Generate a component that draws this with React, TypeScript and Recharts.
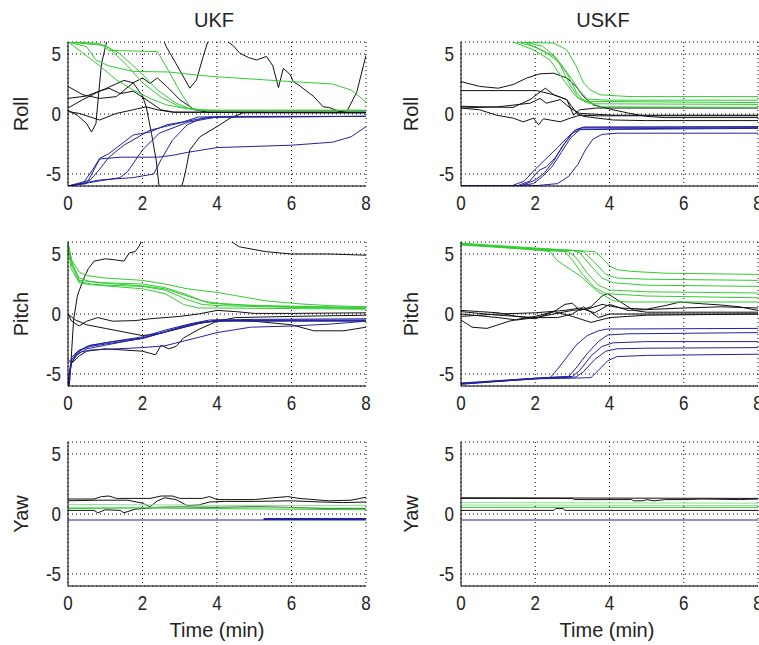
import { LineChart, Line, XAxis, YAxis, CartesianGrid } from "recharts";

type Pair = [number, number];

const timeTicks = [0, 2, 4, 6, 8];
const angleTicks = [-5, 0, 5];

const GREEN = "#33cc33";
const LIGHT_GREEN = "#8fe08f";
const BLUE = "#22229e";
const BLACK = "#111111";
const FONT = "'Liberation Sans', Arial, sans-serif";

// ---- UKF roll ----
const ukfRollGreen: Pair[][] = [
  [[0, 6], [0.4, 5.1], [0.85, 4.0], [1.3, 2.85], [1.75, 2.0], [2.2, 1.3], [2.65, 0.75], [3.1, 0.5], [3.5, 0.35], [4, 0.3], [8, 0.3]],
  [[0, 6], [0.8, 5.9], [1.1, 5.5], [1.6, 4.0], [2.0, 2.6], [2.5, 1.4], [3.0, 0.6], [3.5, 0.3], [8, 0.3]],
  [[0, 6], [0.9, 5.8], [1.1, 5.3], [2.4, 5.2], [2.7, 3.6], [3.0, 1.9], [3.3, 0.5], [3.6, 0.3], [8, 0.3]],
  [[0, 6], [1.0, 5.7], [1.4, 5.0], [1.9, 3.6], [2.4, 2.0], [2.9, 0.9], [3.3, 0.4], [3.8, 0.3], [8, 0.3]],
  [[0, 6], [0.5, 5.6], [0.75, 4.5], [1.1, 4.0], [1.75, 3.55], [2.7, 3.5], [3.6, 3.2], [4.0, 3.1], [6.0, 2.7], [7.1, 2.5], [7.6, 2.0], [8, 1.0]],
];
const ukfRollBlue: Pair[][] = [
  [[0, -6], [0.4, -5.8], [0.65, -4.7], [0.85, -3.7], [1.1, -3.3], [1.75, -1.75], [2.2, -1.5], [2.65, -0.9], [3.1, -0.65], [3.5, -0.25], [8, -0.2]],
  [[0, -6], [0.6, -5.5], [0.85, -4.6], [1.1, -3.6], [1.5, -2.6], [2.2, -1.35], [3.2, -0.6], [3.8, -0.25], [8, -0.2]],
  [[0, -6], [0.8, -5.6], [1.4, -5.3], [1.6, -4.8], [2.0, -3.0], [2.45, -1.6], [3.2, -0.7], [4.0, -0.25], [8, -0.2]],
  [[0, -6], [0.85, -5.5], [1.75, -5.3], [2.3, -5.0], [2.5, -3.8], [2.8, -2.2], [3.2, -0.9], [3.6, -0.35], [4.4, -0.2], [8, -0.2]],
  [[0, -6], [0.5, -5.8], [0.85, -3.75], [1.4, -3.6], [2.4, -3.6], [2.8, -3.45], [3.2, -3.2], [4.0, -2.8], [6.0, -2.6], [7.1, -2.35], [7.6, -1.9], [8, -1.05]],
];
const ukfRollBlack: Pair[][] = [
  [[0, 0.3], [0.25, -0.1], [0.5, -0.8], [0.63, -1.5], [0.75, -0.8], [0.85, 2.6], [0.9, 4.2], [1.05, 6.2], [1.5, 8], [2.2, 8.5], [2.5, 6.6], [2.64, 5.6], [2.9, 4.2], [3.27, 2.15], [3.45, 2.85], [3.63, 4.8], [3.76, 6.1], [4.0, 7], [4.26, 6.1], [4.45, 5.65], [4.6, 5.1], [4.85, 4.7], [5.06, 4.5], [5.33, 4.8], [5.5, 4.0], [5.65, 2.2], [5.78, 3.8], [5.96, 3.3], [6.05, 2.7], [6.2, 2.4], [6.6, 1.45], [6.85, 0.6], [7.0, 0.55], [7.3, 0.2], [7.5, 0.3], [7.75, 1.8], [8, 4.9]],
  [[0, 1.3], [0.5, 1.5], [1.0, 2.1], [1.5, 2.8], [1.75, 2.6], [2.0, 1.5], [2.1, 0.6], [2.24, -1.6], [2.37, -3.9], [2.45, -6.2], [2.75, -9], [3.05, -6.1], [3.14, -5.0], [3.27, -3.0], [3.54, -1.9], [4.0, -1.05], [4.35, -0.35], [4.7, 0.1], [8, 0.1]],
  [[0, 2.3], [0.4, 1.6], [0.85, 1.3], [1.3, 1.45], [1.75, 2.6], [2.0, 3.0], [2.2, 2.55], [2.4, 3.0], [2.65, 2.3], [3.0, 1.2], [3.4, 0.35], [3.75, 0.15], [8, 0.15]],
  [[0, 0.5], [0.4, 1.2], [0.85, 1.9], [1.1, 2.15], [1.4, 1.7], [1.75, 1.9], [2.1, 1.2], [2.5, 0.35], [2.85, 0.15], [8, 0.15]],
  [[0, 0.2], [0.3, 0.05], [0.85, -0.5], [1.3, 0.05], [1.75, 0.35], [2.1, 0.6], [2.4, 0.35], [2.8, 0.15], [8, 0.1]],
];

// ---- USKF roll ----
const uskfRollGreen: Pair[][] = [
  [[0, 7], [1.3, 6.3], [1.6, 6.0], [2.5, 5.9], [2.85, 5.35], [3.1, 4.0], [3.3, 2.6], [3.48, 2.0], [3.75, 1.6], [4.55, 1.45], [8, 1.45]],
  [[0, 7], [1.5, 6.2], [1.77, 5.9], [2.3, 5.1], [2.67, 4.25], [2.94, 3.1], [3.2, 1.9], [3.4, 1.25], [3.9, 1.15], [8, 1.15]],
  [[0, 7], [1.2, 6.2], [1.4, 6.0], [1.95, 5.35], [2.4, 4.5], [2.76, 2.85], [3.1, 1.45], [3.4, 1.05], [8, 0.95]],
  [[0, 7], [1.4, 6.2], [1.68, 6.0], [2.2, 5.65], [2.58, 4.65], [2.94, 2.4], [3.2, 1.2], [3.6, 0.85], [8, 0.8]],
  [[0, 7], [1.3, 6.2], [1.5, 6.0], [2.0, 5.6], [2.5, 4.8], [2.85, 3.4], [3.12, 1.75], [3.35, 1.0], [3.8, 0.6], [8, 0.55]],
];
const uskfRollBlue: Pair[][] = [
  [[0, -6], [1.35, -6], [1.7, -5.6], [2.0, -4.6], [2.2, -4.0], [2.4, -3.4], [2.6, -2.8], [2.85, -2.0], [3.1, -1.3], [3.3, -1.1], [8, -1.05]],
  [[0, -6], [1.5, -6], [1.85, -5.6], [2.1, -4.7], [2.3, -4.4], [2.55, -3.6], [2.8, -2.4], [3.05, -1.4], [3.3, -1.1], [8, -1.1]],
  [[0, -6], [1.55, -6], [1.95, -5.8], [2.2, -5.2], [2.45, -4.4], [2.7, -3.2], [2.95, -2.0], [3.2, -1.3], [8, -1.2]],
  [[0, -6], [1.6, -6], [2.0, -5.5], [2.25, -4.9], [2.5, -3.9], [2.75, -2.6], [3.0, -1.6], [3.25, -1.25], [8, -1.15]],
  [[0, -6], [1.7, -6], [2.1, -5.95], [2.6, -5.8], [2.9, -5.2], [3.15, -4.2], [3.35, -3.0], [3.55, -2.1], [3.8, -1.7], [4.2, -1.6], [8, -1.6]],
];
const uskfRollBlack: Pair[][] = [
  [[0, 2.7], [0.5, 2.3], [1.0, 2.15], [1.4, 2.45], [1.77, 3.0], [2.13, 3.35], [2.5, 3.4], [2.85, 3.0], [3.1, 2.3], [3.3, 1.45], [3.57, 0.75], [4.1, 0.35], [4.55, 0.05], [5.0, -0.2], [5.5, -0.3], [8, -0.3]],
  [[0, 1.95], [2.04, 1.95], [2.5, 1.6], [2.85, 1.2], [3.12, 0.05], [3.3, -0.2], [4.1, -0.5], [5.0, -0.55], [8, -0.55]],
  [[0, 0.65], [0.5, 0.6], [1.4, 0.55], [1.86, 1.2], [2.27, 2.15], [2.5, 1.6], [2.85, 1.2], [3.03, -0.1], [3.2, 0.35], [3.66, 0.5], [8, 0.5]],
  [[0, 0.5], [1.0, 0.6], [1.86, 0.9], [2.13, 1.3], [2.3, 0.9], [2.67, 1.2], [2.94, 0.5], [3.2, 0.05], [4.1, -0.1], [8, -0.1]],
  [[0, 0.5], [0.5, 0.35], [0.96, -0.1], [1.41, -0.35], [1.68, -0.65], [1.95, -0.35], [2.09, -0.9], [2.22, -0.4], [2.4, -0.5], [2.67, -0.65], [2.94, -0.35], [3.2, -0.1], [3.7, -0.15], [8, -0.15]],
];

// ---- UKF pitch ----
const ukfPitchGreen: Pair[][] = [
  [[0, 5.9], [0.1, 4.5], [0.3, 3.5], [0.5, 3.2], [1.0, 3.0], [2.0, 2.8], [2.6, 2.5], [3.2, 2.1], [4.0, 1.8], [5.3, 1.1], [6.2, 0.85], [7.0, 0.7], [8, 0.6]],
  [[0, 5.8], [0.1, 4.2], [0.3, 3.0], [0.6, 2.7], [1.0, 2.6], [2.0, 2.5], [2.6, 2.2], [3.2, 1.6], [3.6, 1.1], [4.0, 0.9], [5.0, 0.7], [6.0, 0.6], [8, 0.5]],
  [[0, 5.7], [0.1, 4.0], [0.3, 2.7], [0.6, 2.5], [1.0, 2.4], [2.0, 2.3], [2.6, 2.0], [3.2, 1.2], [3.6, 0.8], [4.0, 0.7], [6.0, 0.55], [8, 0.45]],
  [[0, 5.6], [0.08, 3.8], [0.3, 2.6], [0.6, 2.45], [1.0, 2.35], [2.0, 2.1], [2.6, 1.7], [3.1, 0.8], [3.5, 0.5], [4.0, 0.5], [6.0, 0.45], [8, 0.4]],
  [[0, 5.9], [0.1, 4.4], [0.3, 2.8], [1.0, 2.55], [2.0, 2.35], [2.6, 2.1], [3.3, 1.4], [3.8, 0.9], [4.5, 0.75], [6.0, 0.65], [8, 0.55]],
];
const ukfPitchBlue: Pair[][] = [
  [[0, -6], [0.08, -4.2], [0.2, -3.5], [0.5, -2.9], [1.0, -2.6], [2.0, -2.0], [2.6, -1.5], [3.5, -0.8], [4.0, -0.55], [6.0, -0.5], [8, -0.5]],
  [[0, -5.8], [0.08, -3.9], [0.25, -3.2], [0.5, -2.7], [1.0, -2.4], [2.0, -1.9], [2.6, -1.35], [3.3, -0.8], [3.8, -0.5], [5.0, -0.45], [8, -0.4]],
  [[0, -6], [0.1, -3.6], [0.3, -3.0], [0.6, -2.7], [1.0, -2.5], [2.0, -2.05], [2.5, -1.6], [3.0, -1.1], [3.6, -0.65], [4.5, -0.55], [8, -0.55]],
  [[0, -6], [0.1, -4.0], [0.3, -3.2], [0.6, -3.0], [1.0, -2.95], [2.0, -2.8], [2.6, -2.65], [3.5, -1.95], [4.0, -1.55], [4.9, -1.1], [6.0, -1.0], [7.0, -0.85], [8, -0.6]],
  [[0, -5.9], [0.1, -3.8], [0.3, -3.1], [0.6, -2.6], [1.2, -2.3], [2.0, -2.0], [2.8, -1.3], [3.5, -0.75], [4.0, -0.6], [8, -0.6]],
];
const ukfPitchBlack: Pair[][] = [
  [[0, -6.6], [0.05, -5.5], [0.1, -3], [0.15, -0.5], [0.25, 1.5], [0.4, 2.8], [0.55, 3.8], [0.7, 4.4], [1.0, 4.6], [1.3, 4.5], [1.5, 4.4], [1.65, 5.1], [1.8, 5.2], [1.9, 5.6], [2.0, 6.2], [2.5, 7.5], [3.5, 7.8], [4.3, 6.2], [4.6, 5.6], [5.3, 5.2], [6.0, 5.0], [7.0, 5.0], [8, 4.9]],
  [[0, 0], [0.1, -0.6], [0.3, -1.0], [0.5, -0.6], [0.8, -0.3], [1.2, -0.6], [1.8, -0.55], [2.2, -0.4], [3.0, -0.2], [3.5, 0], [4.0, 0.3], [4.5, 0.2], [5.0, 0.05], [6.0, 0.05], [8, 0.1]],
  [[0, 0], [0.2, -0.5], [0.5, -0.9], [1.0, -1.2], [1.5, -1.5], [2.0, -1.8], [2.5, -1.6], [3.0, -1.2], [3.5, -0.8], [4.0, -0.5], [5.0, -0.6], [6.0, -0.9], [6.6, -1.4], [7.4, -1.4], [8, -1.1]],
  [[0, -3.8], [0.1, -4.1], [0.3, -3.5], [0.5, -3.1], [1.0, -2.9], [1.5, -3.0], [2.0, -3.1], [2.35, -3.4], [2.5, -2.6], [2.7, -2.9], [2.9, -2.7], [3.1, -2.0], [3.5, -1.3], [4.0, -0.6], [4.5, -0.3], [6.0, -0.2], [8, -0.1]],
];

// ---- USKF pitch ----
const uskfPitchGreen: Pair[][] = [
  [[0, 5.9], [1.0, 5.7], [2.0, 5.5], [3.0, 5.3], [3.6, 5.2], [3.8, 4.7], [4.0, 4.0], [4.2, 3.7], [4.6, 3.55], [5.5, 3.4], [8, 3.3]],
  [[0, 5.85], [1.0, 5.65], [2.0, 5.45], [3.0, 5.3], [3.3, 5.2], [3.6, 4.3], [3.9, 3.3], [4.2, 3.0], [5.0, 2.9], [8, 2.8]],
  [[0, 5.8], [2.0, 5.4], [3.0, 5.3], [3.2, 5.1], [3.5, 4.0], [3.8, 3.0], [4.1, 2.6], [5.0, 2.4], [8, 2.3]],
  [[0, 5.8], [2.0, 5.4], [2.9, 5.2], [3.1, 4.7], [3.4, 3.4], [3.7, 2.4], [4.0, 2.0], [5.0, 1.85], [8, 1.75]],
  [[0, 5.75], [2.0, 5.35], [2.8, 5.2], [3.0, 4.5], [3.3, 3.2], [3.6, 2.2], [3.9, 1.7], [5.0, 1.5], [8, 1.35]],
  [[0, 5.9], [1.0, 5.6], [2.0, 5.35], [2.4, 5.2], [2.58, 4.5], [2.9, 3.8], [3.2, 3.2], [3.65, 1.95], [4.1, 1.1], [4.5, 1.0], [8, 1.0]],
];
const uskfPitchBlue: Pair[][] = [
  [[0, -5.85], [1.0, -5.6], [2.0, -5.4], [2.4, -5.3], [2.6, -4.6], [2.85, -3.6], [3.1, -2.6], [3.4, -1.8], [3.7, -1.4], [3.95, -1.25], [8, -1.2]],
  [[0, -5.8], [2.0, -5.35], [2.9, -5.2], [3.1, -4.5], [3.4, -3.3], [3.7, -2.3], [3.95, -1.75], [4.5, -1.65], [8, -1.55]],
  [[0, -5.75], [2.0, -5.35], [3.0, -5.2], [3.2, -4.7], [3.5, -3.5], [3.8, -2.7], [4.1, -2.4], [5.0, -2.3], [8, -2.3]],
  [[0, -5.8], [2.0, -5.4], [3.1, -5.25], [3.3, -4.8], [3.6, -3.8], [3.9, -3.1], [4.2, -2.9], [5.0, -2.85], [8, -2.8]],
  [[0, -5.85], [2.0, -5.4], [3.0, -5.35], [3.5, -5.3], [3.7, -4.7], [3.95, -3.9], [4.2, -3.55], [5.0, -3.45], [8, -3.35]],
];
const uskfPitchBlack: Pair[][] = [
  [[0, 0.3], [0.5, 0.2], [1.0, 0.1], [1.5, -0.2], [2.0, -0.4], [2.5, 0.2], [2.8, 0.8], [3.0, 0.9], [3.2, 0.3], [3.5, 0.6], [3.8, 1.5], [3.95, 1.7], [4.3, 1.0], [4.65, 0.3], [5.0, 0.15], [6.0, 0.15], [8, 0.15]],
  [[0, 0], [1.0, -0.3], [1.5, -0.5], [2.0, -0.3], [2.5, 0], [3.0, 0.3], [3.4, 0.4], [3.8, 0.8], [4.3, 0.5], [5.0, 0.4], [5.5, 0.7], [5.9, 1.0], [6.5, 0.85], [7.0, 0.75], [7.5, 0.6], [8, 0.3]],
  [[0, -0.5], [0.3, -1.1], [0.7, -1.2], [1.0, -0.9], [1.3, -0.6], [1.6, -0.4], [2.0, -0.2], [2.5, 0.2], [3.0, -0.2], [3.5, -0.7], [4.0, -0.3], [5.0, -0.1], [8, 0]],
  [[0, 0.2], [1.0, -0.1], [2.0, -0.3], [2.6, -0.3], [3.0, 0], [3.3, 0.6], [3.7, -0.3], [4.0, 0], [8, 0]],
  [[0, -0.2], [1.0, 0], [2.0, 0.1], [2.8, 0.3], [3.2, 0.5], [3.6, 0.1], [4.0, 0.8], [4.5, 0.3], [6.0, 0.5], [7.0, 0.6], [8, 0.5]],
];

// ---- UKF yaw ----
const ukfYawGreen: Pair[][] = [
  [[0, 0.8], [3.0, 0.75], [5.0, 0.7], [6.3, 0.7], [8, 0.7]],
  [[0, 0.55], [2.0, 0.55], [3.5, 0.6], [5.0, 0.55], [6.3, 0.5], [8, 0.5]],
  [[0, 0.45], [2.0, 0.5], [4.0, 0.45], [6.0, 0.4], [8, 0.35]],
];
const ukfYawBlue: Pair[][] = [
  [[0, -0.5], [8, -0.5]],
  [[5.25, -0.42], [8, -0.42]],
];
const ukfYawBlack: Pair[][] = [
  [[0, 1.25], [0.7, 1.25], [0.9, 1.45], [1.1, 1.5], [1.3, 1.3], [2.2, 1.3], [2.5, 1.5], [2.8, 1.5], [3.0, 1.3], [3.6, 1.3], [3.8, 1.45], [4.0, 1.2], [5.0, 1.2], [5.5, 1.35], [5.9, 1.45], [6.2, 1.3], [7.0, 1.1], [7.6, 1.15], [8, 1.4]],
  [[0, 1.1], [0.8, 1.15], [1.6, 1.15], [2.0, 0.9], [2.2, 0.6], [2.4, 1.1], [2.6, 1.35], [2.9, 1.2], [3.2, 0.7], [3.5, 0.75], [3.8, 1.0], [4.2, 1.05], [5.0, 1.05], [6.0, 1.1], [6.8, 1.0], [7.4, 0.95], [8, 1.0]],
  [[0, 0.3], [0.7, 0.3], [0.8, 0.1], [1.0, 0.35], [1.4, 0.3], [1.5, 0.1], [1.8, 0.4], [2.4, 0.55], [3.0, 0.6], [4.0, 0.55], [5.0, 0.6], [6.0, 0.55], [7.0, 0.45], [8, 0.45]],
];

// ---- USKF yaw ----
const uskfYawGreen: Pair[][] = [
  [[0, 0.95], [8, 0.9]],
  [[0, 0.75], [8, 0.7]],
  [[0, 0.55], [8, 0.55]],
];
const uskfYawBlue: Pair[][] = [[[0, -0.5], [8, -0.5]]];
const uskfYawBlack: Pair[][] = [
  [[0, 1.35], [8, 1.3]],
  [[0, 1.3], [3.0, 1.3], [3.05, 1.2], [4.6, 1.2], [4.65, 1.1], [4.9, 1.1], [5.0, 1.2], [5.2, 1.1], [5.5, 1.2], [6.0, 1.2], [6.5, 1.25], [7.5, 1.2], [8, 1.25]],
  [[0, 0.3], [2.5, 0.3], [2.55, 0.45], [2.75, 0.45], [2.8, 0.3], [8, 0.3]],
];

const toPoints = (pairs: Pair[]) => pairs.map(([t, v]) => ({ t, v }));

// tick digits in the original are a bit narrow, squeeze them horizontally
const XTick = (props: any) => (
  <g transform={`translate(${props.x},${props.y + 24}) scale(0.85,1)`}>
    <text x={0} y={0} textAnchor="middle" fontSize={20} fontFamily={FONT} fill="#222">
      {props.payload.value}
    </text>
  </g>
);

const YTick = (props: any) => (
  <g transform={`translate(${props.x - 7},${props.y + 7}) scale(0.85,1)`}>
    <text x={0} y={0} textAnchor="end" fontSize={20} fontFamily={FONT} fill="#222">
      {props.payload.value}
    </text>
  </g>
);

interface PanelProps {
  left: number;
  top: number;
  right: number;
  green: Pair[][];
  blue: Pair[][];
  black: Pair[][];
  lightGreen?: boolean;
}

function Panel({ left, top, right, green, blue, black, lightGreen }: PanelProps) {
  return (
    <div style={{ position: "absolute", left, top }}>
      <LineChart width={380} height={196} margin={{ top: 12, right, bottom: 0, left: 0 }}>
        <CartesianGrid stroke="#000" strokeDasharray="1 3" />
        <XAxis
          dataKey="t"
          type="number"
          domain={[0, 8]}
          ticks={timeTicks}
          interval={0}
          allowDataOverflow
          height={40}
          axisLine={{ stroke: "#000" }}
          tickLine={false}
          tickSize={0}
          tickMargin={0}
          tick={XTick}
        />
        <YAxis
          type="number"
          domain={[-6, 6]}
          ticks={angleTicks}
          interval={0}
          allowDataOverflow
          width={68}
          axisLine={{ stroke: "#000" }}
          tickLine={false}
          tickSize={0}
          tickMargin={0}
          tick={YTick}
        />
        {black.map((s, i) => (
          <Line key={`k${i}`} data={toPoints(s)} dataKey="v" type="linear" stroke={BLACK} strokeWidth={1} dot={false} isAnimationActive={false} />
        ))}
        {green.map((s, i) => (
          <Line
            key={`g${i}`}
            data={toPoints(s)}
            dataKey="v"
            type="linear"
            stroke={lightGreen && i < 2 ? LIGHT_GREEN : GREEN}
            strokeWidth={1}
            dot={false}
            isAnimationActive={false}
          />
        ))}
        {blue.map((s, i) => (
          <Line key={`b${i}`} data={toPoints(s)} dataKey="v" type="linear" stroke={BLUE} strokeWidth={i === 1 && blue.length === 2 ? 2 : 1} dot={false} isAnimationActive={false} />
        ))}
      </LineChart>
    </div>
  );
}

const labelStyle: React.CSSProperties = {
  position: "absolute",
  fontFamily: FONT,
  fontSize: 20,
  lineHeight: "20px",
  color: "#222",
  whiteSpace: "nowrap",
};

function Label({ x, y, text, rotate }: { x: number; y: number; text: string; rotate?: boolean }) {
  return (
    <span
      style={{
        ...labelStyle,
        left: x,
        top: y,
        transform: `translate(-50%, -50%)${rotate ? " rotate(-90deg)" : ""}`,
      }}
    >
      {text}
    </span>
  );
}

export default function App() {
  return (
    <div
      style={{
        position: "absolute",
        left: 0,
        top: 0,
        width: 759,
        height: 645,
        overflow: "hidden",
        background: "#fff",
      }}
    >
      <Panel left={0} top={30} right={14} green={ukfRollGreen} blue={ukfRollBlue} black={ukfRollBlack} />
      <Panel left={393} top={30} right={15} green={uskfRollGreen} blue={uskfRollBlue} black={uskfRollBlack} />
      <Panel left={0} top={230} right={14} green={ukfPitchGreen} blue={ukfPitchBlue} black={ukfPitchBlack} />
      <Panel left={393} top={230} right={15} green={uskfPitchGreen} blue={uskfPitchBlue} black={uskfPitchBlack} />
      <Panel left={0} top={430} right={14} green={ukfYawGreen} blue={ukfYawBlue} black={ukfYawBlack} lightGreen />
      <Panel left={393} top={430} right={15} green={uskfYawGreen} blue={uskfYawBlue} black={uskfYawBlack} lightGreen />

      <Label x={214} y={20} text="UKF" />
      <Label x={603} y={20} text="USKF" />
      <Label x={21} y={114} text="Roll" rotate />
      <Label x={411} y={114} text="Roll" rotate />
      <Label x={21} y={314} text="Pitch" rotate />
      <Label x={411} y={314} text="Pitch" rotate />
      <Label x={21} y={514} text="Yaw" rotate />
      <Label x={411} y={514} text="Yaw" rotate />
      <Label x={217} y={630} text="Time (min)" />
      <Label x={607} y={630} text="Time (min)" />
    </div>
  );
}
